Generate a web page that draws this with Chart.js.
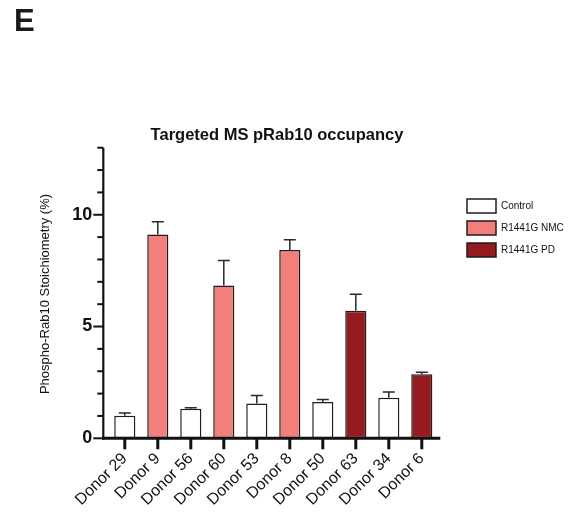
<!DOCTYPE html>
<html>
<head>
<meta charset="utf-8">
<script src="https://cdn.jsdelivr.net/npm/chart.js@4/dist/chart.umd.min.js"></script>
<style>
  html, body { margin: 0; padding: 0; background: #ffffff; }
  #wrap { position: relative; width: 572px; height: 517px; }
</style>
</head>
<body>
<div id="wrap"><canvas id="c" width="572" height="517"></canvas></div>
<script>
// Donors on the x axis
const donors = ['Donor 29', 'Donor 9', 'Donor 56', 'Donor 60', 'Donor 53',
                'Donor 8', 'Donor 50', 'Donor 63', 'Donor 34', 'Donor 6'];
// Mean pRab10 stoichiometry (%) per donor
const occupancy = [1.01, 9.12, 1.32, 6.83, 1.56, 8.42, 1.62, 5.71, 1.81, 2.87];
// Upper error (SD) per donor
const errorUp = [0.12, 0.57, 0.05, 1.12, 0.36, 0.46, 0.12, 0.73, 0.26, 0.08];
// Group of each donor (index into groupNames)
const donorGroup = [0, 1, 0, 1, 0, 1, 0, 2, 0, 2];
const groupNames = ['Control', 'R1441G NMC', 'R1441G PD'];
const groupColors = ['#ffffff', '#f37f7a', '#951b1f'];
// Y axis range and labelled ticks
const yMax = 13;
const yLabelled = [0, 5, 10];

const FONT = '"Liberation Sans", Arial, Helvetica, sans-serif';
const INK = '#111111';

// One dataset per group; other donors left empty so bars keep full width
const datasets = groupNames.map((name, g) => ({
  label: name,
  data: occupancy.map((v, i) => donorGroup[i] === g ? v : null),
  errors: errorUp.map((e, i) => donorGroup[i] === g ? e : null),
  backgroundColor: groupColors[g],
  borderColor: '#1e1e1e',
  borderWidth: 1.5,
  borderSkipped: false,
  categoryPercentage: 1,
  barPercentage: 0.64
}));

// Upward-only error whiskers with caps
const errorBars = {
  id: 'errorBars',
  afterDatasetsDraw(chart) {
    const ctx = chart.ctx;
    const y = chart.scales.y;
    ctx.save();
    ctx.strokeStyle = '#2a2a2a';
    ctx.lineWidth = 1.5;
    chart.data.datasets.forEach((ds, di) => {
      const meta = chart.getDatasetMeta(di);
      meta.data.forEach((bar, i) => {
        const v = ds.data[i];
        const e = ds.errors[i];
        if (v == null || e == null) return;
        const yTop = y.getPixelForValue(v + e);
        ctx.beginPath();
        ctx.moveTo(bar.x, bar.y);
        ctx.lineTo(bar.x, yTop);
        ctx.moveTo(bar.x - 6, yTop);
        ctx.lineTo(bar.x + 6, yTop);
        ctx.stroke();
      });
    });
    ctx.restore();
  }
};

// Axis lines and tick marks in the Prism style
const axesDecor = {
  id: 'axesDecor',
  afterDraw(chart) {
    const ctx = chart.ctx;
    const xs = chart.scales.x, ys = chart.scales.y;
    const ax = chart.chartArea.left - 5;
    const y0 = ys.getPixelForValue(0);
    const yT = ys.getPixelForValue(yMax);
    ctx.save();
    ctx.strokeStyle = INK;
    ctx.lineCap = 'butt';
    // y axis
    ctx.lineWidth = 2.2;
    ctx.beginPath();
    ctx.moveTo(ax, yT);
    ctx.lineTo(ax, y0 + 1.5);
    ctx.stroke();
    // y ticks
    for (let v = 0; v <= yMax; v++) {
      const py = ys.getPixelForValue(v);
      const len = yLabelled.includes(v) ? 10 : 6;
      ctx.lineWidth = 2;
      ctx.beginPath();
      ctx.moveTo(ax - len, py);
      ctx.lineTo(ax, py);
      ctx.stroke();
    }
    // x axis
    ctx.lineWidth = 3;
    ctx.beginPath();
    ctx.moveTo(ax - 1, y0);
    ctx.lineTo(chart.chartArea.right + 2, y0);
    ctx.stroke();
    // x ticks
    donors.forEach((d, i) => {
      const px = xs.getPixelForValue(i);
      ctx.lineWidth = 3;
      ctx.beginPath();
      ctx.moveTo(px, y0);
      ctx.lineTo(px, y0 + 11);
      ctx.stroke();
    });
    ctx.restore();
  }
};

// Panel letter, title, y-axis title and legend
const annotations = {
  id: 'annotations',
  afterDraw(chart) {
    const ctx = chart.ctx;
    ctx.save();
    ctx.fillStyle = '#1a1a1a';
    ctx.textAlign = 'left';
    ctx.textBaseline = 'alphabetic';
    ctx.font = 'bold 31px ' + FONT;
    ctx.fillText('E', 14, 31);

    ctx.fillStyle = INK;
    ctx.textAlign = 'center';
    ctx.textBaseline = 'middle';
    ctx.font = 'bold 16.5px ' + FONT;
    ctx.fillText('Targeted MS pRab10 occupancy', 277, 135);

    ctx.save();
    ctx.translate(45, 294);
    ctx.rotate(-Math.PI / 2);
    ctx.font = '13px ' + FONT;
    ctx.fillText('Phospho-Rab10 Stoichiometry (%)', 0, 0);
    ctx.restore();

    // legend
    ctx.font = '10px ' + FONT;
    ctx.textAlign = 'left';
    chart.data.datasets.forEach((ds, i) => {
      const cy = 206 + i * 22;
      ctx.fillStyle = ds.backgroundColor;
      ctx.fillRect(467, cy - 7, 29, 14);
      ctx.strokeStyle = '#1e1e1e';
      ctx.lineWidth = 1.5;
      ctx.strokeRect(467, cy - 7, 29, 14);
      ctx.fillStyle = INK;
      ctx.fillText(ds.label, 501, cy + 0.5);
    });
    ctx.restore();
  }
};

new Chart(document.getElementById('c'), {
  type: 'bar',
  data: { labels: donors, datasets },
  options: {
    responsive: false,
    animation: false,
    devicePixelRatio: 1,
    layout: { padding: { top: 147.7, right: 133.7, bottom: 0, left: 0 } },
    plugins: { legend: { display: false }, title: { display: false }, tooltip: { enabled: false } },
    scales: {
      x: {
        stacked: true,
        offset: true,
        grid: { display: false, drawTicks: false },
        border: { display: false },
        ticks: {
          minRotation: 45, maxRotation: 45, autoSkip: false, padding: 11,
          color: INK, font: { family: FONT, size: 16 }
        },
        afterFit(s) { s.height = 517 - 438.3; }
      },
      y: {
        stacked: false,
        min: 0, max: yMax,
        grid: { display: false, drawTicks: false },
        border: { display: false },
        ticks: {
          stepSize: 1, padding: 16, color: INK, autoSkip: false,
          font: { family: FONT, size: 18, weight: 'bold' },
          callback: v => yLabelled.includes(v) ? String(v) : ''
        },
        afterFit(s) { s.width = 108.3; }
      }
    }
  },
  plugins: [errorBars, axesDecor, annotations]
});
</script>
</body>
</html>
